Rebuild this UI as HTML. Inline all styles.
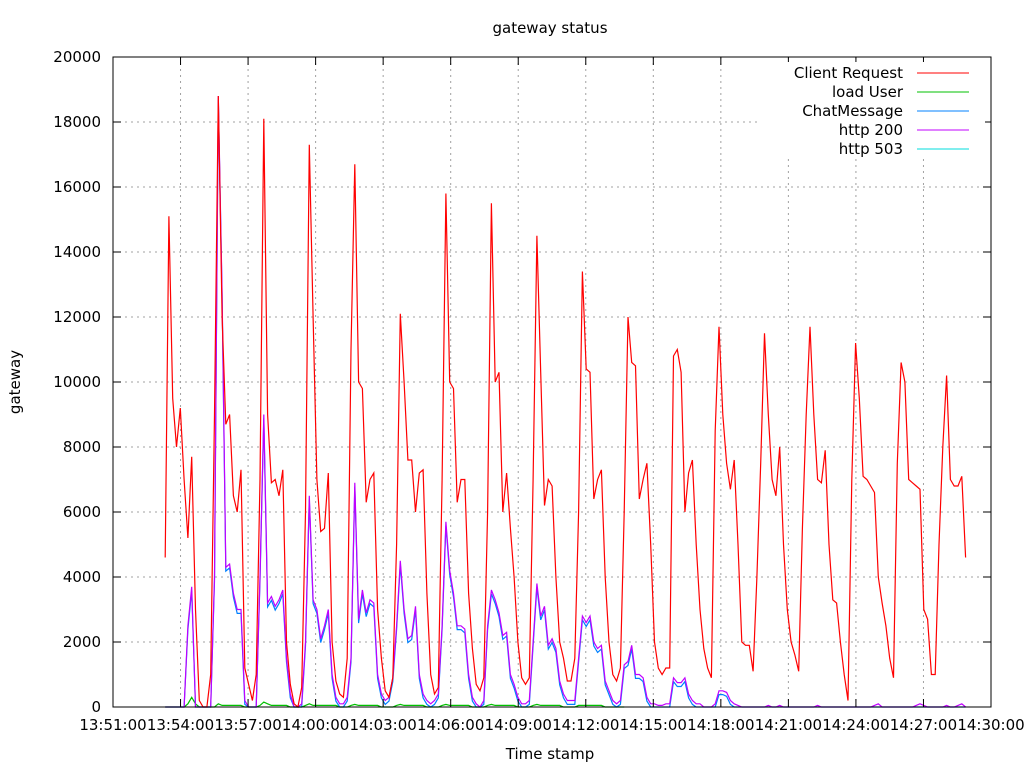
<!DOCTYPE html>
<html><head><meta charset="utf-8"><style>
html,body{margin:0;padding:0;background:#fff;}
svg text{font-family:"DejaVu Sans","Liberation Sans",sans-serif;font-size:15px;fill:#000;}
</style></head><body>
<svg id="chart" width="1024" height="768" xmlns="http://www.w3.org/2000/svg">
<rect width="1024" height="768" fill="#fff"/>
<g id="grid"></g>
<g id="series"></g>
<rect x="113" y="57" width="878" height="650" fill="none" stroke="#000" stroke-width="1"/>
<g id="ticks"></g>
<text x="550" y="33" text-anchor="middle">gateway status</text>
<text x="550" y="759" text-anchor="middle">Time stamp</text>
<text transform="translate(20,382) rotate(-90)" text-anchor="middle">gateway</text>
<g id="legend"></g>
</svg>
<script>
const seriesNames = ["Client Request","load User","ChatMessage","http 200","http 503"];
const seriesColors = ["#ff0000","#00c000","#0080ff","#c000ff","#00dddd"];
const yTicks = [0,2000,4000,6000,8000,10000,12000,14000,16000,18000,20000];
const xTickLabels = ["13:51:00","13:54:00","13:57:00","14:00:00","14:03:00","14:06:00","14:09:00","14:12:00","14:15:00","14:18:00","14:21:00","14:24:00","14:27:00","14:30:00"];
const startSec = 139;   // 13:53:19 relative to 13:51:00
const stepSec = 10.11;
const clientRequest = [
4600,15100,9500,8000,9200,7000,5200,7700,3000,200,0,0,1000,9000,
18800,12000,8700,9000,6500,6000,7300,1200,700,200,1000,7000,
18100,9000,6900,7000,6500,7300,2000,700,100,0,600,6000,
17300,12000,7000,5400,5500,7200,2000,800,400,300,1500,11000,
16700,10000,9800,6300,7000,7200,3000,1500,500,300,900,5000,
12100,10000,7600,7600,6000,7200,7300,3500,1000,400,600,7000,
15800,10000,9800,6300,7000,7000,3500,1800,700,500,900,6000,
15500,10000,10300,6000,7200,5500,4000,2000,900,700,900,7000,
14500,10300,6200,7000,6800,4000,2000,1500,800,800,1500,6000,
13400,10400,10300,6400,7000,7300,4000,2000,1000,800,1200,6000,
12000,10600,10500,6400,7000,7500,5000,2000,1200,1000,1200,1200,
10800,11000,10300,6000,7200,7600,5000,3000,1800,1200,900,8500,
11700,9000,7500,6700,7600,5000,2000,1900,1900,1100,4000,7500,
11500,9000,7000,6500,8000,5000,3000,2000,1600,1100,5500,9000,
11700,9000,7000,6900,7900,5000,3300,3200,2000,1000,200,7000,
11200,9500,7100,7000,6800,6600,4000,3200,2500,1500,900,7500,
10600,10000,7000,6900,6800,6700,3000,2700,1000,1000,5000,8000,
10200,7000,6800,6800,7100,4600];
const http200 = [
0,0,0,0,0,0,2500,3700,0,0,0,0,0,4000,
18800,12700,4300,4400,3500,3000,3000,200,0,0,0,4000,
9000,3200,3400,3100,3300,3600,1500,400,0,0,100,2000,
6500,3300,3000,2100,2500,3000,1000,300,100,100,300,1500,
6900,2700,3600,2900,3300,3200,1000,400,200,300,900,2500,
4500,3000,2100,2200,3100,1000,400,200,100,200,400,2500,
5700,4200,3500,2500,2500,2400,1000,300,100,0,200,2500,
3600,3300,2900,2200,2300,1000,700,300,100,100,200,2000,
3800,2800,3100,1900,2100,1800,800,400,200,200,200,1500,
2800,2600,2800,2000,1800,1900,800,500,200,100,200,1300,
1400,1900,1000,1000,900,300,100,100,50,50,100,100,
900,750,750,900,400,200,100,100,0,0,0,100,
500,500,450,200,100,50,0,0,0,0,0,0,
0,50,0,0,50,0,0,0,0,0,0,0,
0,0,50,0,0,0,0,0,0,0,0,0,
0,0,0,0,0,50,100,0,0,0,0,0,
0,0,0,0,50,100,50,0,0,0,0,0,
50,0,0,50,100,0];
const chatMessage = http200.map(v => v > 0 ? Math.max(0, v - 120) : 0);
const loadUser = [
0,0,0,0,0,0,100,300,100,0,0,0,0,0,
100,50,50,50,50,50,50,0,0,0,0,50,
150,100,50,50,50,50,50,0,0,0,0,50,
100,50,50,50,50,50,50,50,0,0,0,50,
80,50,50,50,50,50,50,0,0,0,0,50,
80,50,50,50,50,50,50,0,0,0,0,50,
80,50,50,50,50,50,50,0,0,0,0,50,
80,50,50,50,50,50,50,0,0,0,0,50,
80,50,50,50,50,50,50,0,0,0,0,50,
50,50,50,50,50,50,0,0,0,0,0,0];
const http503 = [0];

const X0 = 113, X1 = 991, Y0 = 707, Y1 = 57;
const xMin = 0, xMax = 39 * 60;
const sx = s => X0 + (s - xMin) / (xMax - xMin) * (X1 - X0);
const sy = v => Y0 - v / 20000 * (Y0 - Y1);
const NS = "http://www.w3.org/2000/svg";
function mk(tag, attrs, parent) {
  const el = document.createElementNS(NS, tag);
  for (const k in attrs) el.setAttribute(k, attrs[k]);
  parent.appendChild(el);
  return el;
}
const grid = document.getElementById('grid');
const ticks = document.getElementById('ticks');
yTicks.forEach(v => {
  const y = sy(v);
  if (v > 0 && v < 20000) {
    const g = mk('line', {x1: X0, x2: X1, y1: y, y2: y, stroke: '#a0a0a0', 'stroke-dasharray': '2,4'}, grid);
    
    
  }
  mk('line', {x1: X0, x2: X0 + 8, y1: y, y2: y, stroke: '#000'}, ticks);
  mk('line', {x1: X1, x2: X1 - 8, y1: y, y2: y, stroke: '#000'}, ticks);
  const t = mk('text', {x: X0 - 12, y: y + 5, 'text-anchor': 'end'}, ticks);
  t.textContent = v;
  
  
});
xTickLabels.forEach((lab, i) => {
  const x = sx(i * 180);
  if (i > 0 && i < xTickLabels.length - 1) {
    const g = mk('line', {x1: x, x2: x, y1: Y1, y2: Y0, stroke: '#a0a0a0', 'stroke-dasharray': '2,4'}, grid);
    
    
  }
  mk('line', {x1: x, x2: x, y1: Y0, y2: Y0 - 8, stroke: '#000'}, ticks);
  mk('line', {x1: x, x2: x, y1: Y1, y2: Y1 + 8, stroke: '#000'}, ticks);
  const t = mk('text', {x: x, y: 730, 'text-anchor': 'middle'}, ticks);
  t.textContent = lab;
  
  
});
const seriesG = document.getElementById('series');
const allSeries = [clientRequest, loadUser, chatMessage, http200, http503];
const drawOrder = [4, 1, 2, 3, 0];
drawOrder.forEach(k => {
  const arr = allSeries[k];
  if (arr.length < 2) return;
  const pts = arr.map((v, i) => sx(startSec + i * stepSec).toFixed(1) + ',' + sy(v).toFixed(1)).join(' ');
  const pl = mk('polyline', {points: pts, fill: 'none', stroke: seriesColors[k], 'stroke-width': 1.2}, seriesG);
  
  
});
const legend = document.getElementById('legend');
const bg = mk('rect', {x: 760, y: 62, width: 225, height: 96, fill: '#fff'}, legend);


seriesNames.forEach((n, i) => {
  const y = 73 + i * 19;
  const t = mk('text', {x: 903, y: y + 5, 'text-anchor': 'end'}, legend);
  t.textContent = n;
  
  
  mk('line', {x1: 917, x2: 969, y1: y, y2: y, stroke: seriesColors[i], 'stroke-width': 1}, legend);
});
</script>
</body></html>
